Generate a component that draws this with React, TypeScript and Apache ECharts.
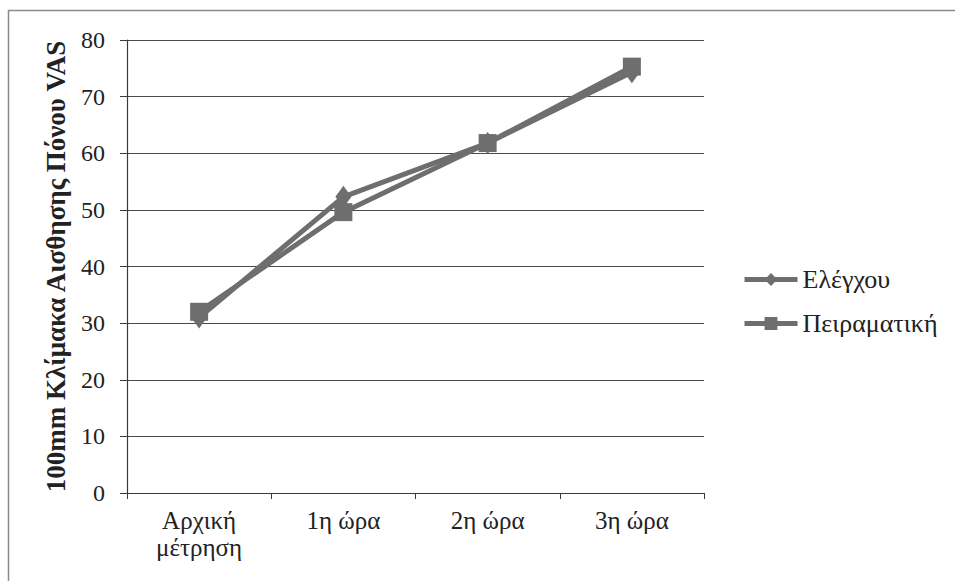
import React, { useEffect, useRef } from "react";
import * as echarts from "echarts";

const timepoints = ["Αρχική\nμέτρηση", "1η ώρα", "2η ώρα", "3η ώρα"];
const controlGroup = [31, 52.3, 61.8, 74.3];
const experimentalGroup = [32, 49.6, 61.8, 75.3];
const seriesNames = ["Ελέγχου", "Πειραματική"];
const yAxisTitle = "100mm Κλίμακα Αισθησης Πόνου VAS";

const FONT = "'Liberation Serif', 'Times New Roman', serif";
const LINE_COLOR = "#6e6e6e";

export default function App() {
  const ref = useRef<HTMLDivElement>(null);

  useEffect(() => {
    if (!ref.current) return;
    const chart = echarts.init(ref.current, undefined, { renderer: "svg" });
    chart.setOption({
      animation: false,
      backgroundColor: "#ffffff",
      textStyle: { fontFamily: FONT },
      grid: { left: 127, right: 251, top: 40, bottom: 88 },
      graphic: [
        {
          type: "polyline",
          shape: { points: [[8.5, 600], [8.5, 10.5], [960, 10.5]] },
          style: { stroke: "#8a8a8a", lineWidth: 1.5, fill: "none" },
          silent: true,
        },
      ],
      legend: {
        orient: "vertical",
        left: 742,
        top: 266,
        padding: 0,
        itemWidth: 53,
        itemHeight: 16,
        itemGap: 17,
        data: seriesNames,
        lineStyle: { width: 5, color: LINE_COLOR },
        textStyle: {
          fontFamily: FONT,
          fontSize: 26,
          lineHeight: 27,
          color: "#222",
        },
      },
      xAxis: {
        type: "category",
        data: timepoints,
        boundaryGap: true,
        axisLine: { lineStyle: { color: "#3a3a3a", width: 1.2 } },
        axisTick: { show: true, length: 6, lineStyle: { color: "#3a3a3a" } },
        axisLabel: {
          fontFamily: FONT,
          fontSize: 25,
          lineHeight: 27,
          color: "#222",
          margin: 14,
        },
      },
      yAxis: {
        type: "value",
        min: 0,
        max: 80,
        interval: 10,
        name: yAxisTitle,
        nameLocation: "middle",
        nameGap: 58,
        nameTextStyle: {
          fontFamily: FONT,
          fontSize: 27,
          fontWeight: "bold",
          color: "#222",
        },
        axisLine: { show: true, lineStyle: { color: "#3a3a3a", width: 1.2 } },
        axisTick: { show: true, length: 7, lineStyle: { color: "#3a3a3a" } },
        axisLabel: {
          fontFamily: FONT,
          fontSize: 24,
          color: "#222",
          margin: 22,
        },
        splitLine: { lineStyle: { color: "#4a4a4a", width: 1.2 } },
      },
      series: [
        {
          name: seriesNames[0],
          type: "line",
          data: controlGroup,
          symbol: "diamond",
          symbolSize: [16, 22],
          lineStyle: { color: LINE_COLOR, width: 5 },
          itemStyle: { color: LINE_COLOR },
        },
        {
          name: seriesNames[1],
          type: "line",
          data: experimentalGroup,
          symbol: "rect",
          symbolSize: 18,
          lineStyle: { color: LINE_COLOR, width: 5 },
          itemStyle: { color: LINE_COLOR },
        },
      ],
    });
    return () => chart.dispose();
  }, []);

  return (
    <div
      ref={ref}
      style={{ position: "fixed", left: 0, top: 0, width: 955, height: 581 }}
    />
  );
}
